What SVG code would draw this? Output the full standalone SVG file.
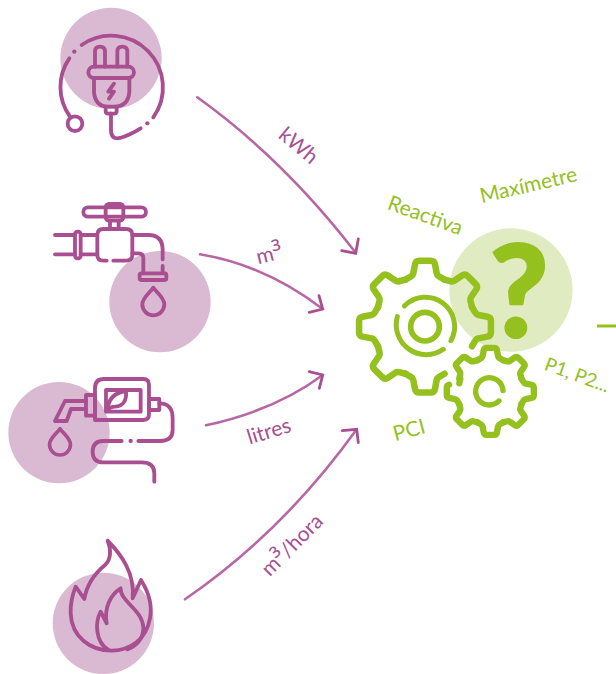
<svg xmlns="http://www.w3.org/2000/svg" width="616" height="674" viewBox="0 0 616 674">
<style>
.disc{fill:#d9bad2}
.ic{fill:none;stroke:#a94f91;stroke-width:11.5;stroke-linecap:round;stroke-linejoin:round}
.dot{fill:#a94f91}
.g{fill:none;stroke:#95c11f;stroke-linecap:round;stroke-linejoin:round}
.arrow{fill:none;stroke:#b767a4;stroke-width:2.6;stroke-linecap:round}
.head{fill:none;stroke:#a94f91;stroke-width:2.8;stroke-linecap:round;stroke-linejoin:miter}
.t{font-family:"Lato","Open Sans",sans-serif;font-size:21px;text-anchor:middle}
.tp{fill:#a94f91}
.tg{fill:#95c11f}
.sup{font-family:"Open Sans",sans-serif;font-size:26px}
</style>
<defs>
<path id="tooth" d="M-57,-137 L-40,-147 Q-35,-150 -34,-156 L-29,-182 Q-27,-192 -17,-192 H17 Q27,-192 29,-182 L34,-156 Q35,-150 40,-147 L57,-137"/>
<path id="drop" d="M0,-45 C-10,-30 -33,-15 -33,5 A33,33 0 0 0 33,5 C33,-15 10,-30 0,-45Z"/>
</defs>
<g id="node-electricity" transform="translate(40,0) scale(.3333)">
<circle class="disc" cx="213" cy="175" r="152"/>
<path class="ic" d="M125,135 A155,155 0 0 1 340,352"/>
<path class="ic" d="M88,175 A152,152 0 0 0 90,350"/>
<circle class="ic" cx="105" cy="371" r="22"/>
<circle class="dot" cx="103" cy="155" r="6.5"/>
<circle class="dot" cx="322" cy="370" r="6.5"/>
<path class="ic" d="M302,385 Q270,405 240,414 Q213,420 213,390 V340"/>
<path class="ic" d="M165,200 V155 Q165,140 180,140 Q195,140 195,155 V200 M232,200 V155 Q232,140 247,140 Q262,140 262,155 V200"/>
<rect class="ic" x="145" y="200" width="137" height="34" rx="17"/>
<path class="ic" d="M162,234 V275 Q165,320 205,320 H222 Q265,320 268,275 V234"/>
<path class="ic" d="M197,320 V333 Q197,341 205,341 H222 Q230,341 230,333 V320"/>
<path class="ic" d="M222,251 L205,275 H222 L207,296" stroke-width="8"/>
</g>
<g id="node-water" transform="translate(40,190) scale(.3333)">
<circle class="disc" cx="360" cy="335" r="152"/>
<rect class="ic" x="130" y="52" width="188" height="28" rx="14"/>
<rect class="ic" x="197" y="42" width="53" height="50" rx="10"/>
<path class="ic" d="M210,92 V117 M236,92 V117"/>
<path class="ic" d="M200,212 H190 Q172,212 172,195 V135 Q172,117 190,117 H258 Q277,117 277,135 V195 Q277,212 258,212 H220"/>
<path class="ic" d="M45,135 H105 M45,193 H105 M122,135 H172 M122,193 H172"/>
<rect class="ic" x="105" y="125" width="17" height="80" rx="8"/>
<path class="ic" d="M277,135 H325 Q368,135 368,180 V208 M368,228 V250 M277,190 H295 Q310,190 310,205 V250"/>
<rect class="ic" x="299" y="250" width="80" height="20" rx="5"/>
<use href="#drop" class="ic" transform="translate(340,338)"/>
</g>
<g id="node-fuel" transform="translate(0,365) scale(.3333)">
<circle class="disc" cx="177" cy="203" r="152"/>
<path class="ic" d="M285,165 V70 Q285,42 312,42 H430 Q447,42 447,60 V148 Q447,165 430,165 Z"/>
<rect class="ic" x="318" y="75" width="104" height="65"/>
<path class="ic" d="M322,138 Q325,85 378,78 Q382,122 345,125 Q330,125 322,138"/>
<rect class="ic" x="258" y="90" width="27" height="62"/>
<path class="ic" d="M258,108 H195 L165,168 H200 L213,132 H258"/>
<rect class="ic" x="447" y="102" width="31" height="33"/>
<path class="ic" d="M478,115 Q518,115 518,160 V195 Q518,228 480,228 H415"/>
<circle class="dot" cx="392" cy="228" r="6.5"/>
<path class="ic" d="M365,228 H310 Q278,228 278,260 Q278,292 310,292 H425 Q463,292 463,325 V350"/>
<use href="#drop" class="ic" transform="translate(180,234) scale(.95)"/>
</g>
<g id="node-gas" transform="translate(40,530) scale(.3333)">
<circle class="disc" cx="190" cy="280" r="152"/>
<path class="ic" d="M203,32 C245,75 285,130 278,205 L303,150 C325,185 338,225 330,265 C318,330 270,362 215,362 C150,362 95,320 92,250 C91,220 97,195 107,170 L133,207 C140,165 165,130 195,105 C212,90 215,60 203,32Z"/>
<path class="ic" d="M242,175 C240,215 310,240 310,295 C310,325 290,348 262,358 M242,175 C210,195 192,235 200,280 L182,245 C165,275 165,335 205,360"/>
</g>
<g id="node-process" transform="translate(345,220) scale(.3333)">
<circle cx="498" cy="210" r="185" fill="#e0ebc2"/>
<g class="g" stroke-width="19">
<g transform="translate(240,320) scale(1.03)">
<use href="#tooth"/>
<use href="#tooth" transform="rotate(45)"/>
<use href="#tooth" transform="rotate(90)"/>
<use href="#tooth" transform="rotate(180)"/>
<use href="#tooth" transform="rotate(225)"/>
<use href="#tooth" transform="rotate(270)"/>
<use href="#tooth" transform="rotate(315)"/>
</g>
<circle cx="240" cy="320" r="43" stroke-width="17"/>
<path stroke-width="15" d="M178,258 A88,88 0 0 1 318,362"/>
<path stroke-width="15" d="M157,290 A90,90 0 0 0 295,388"/>
<g transform="translate(436,514) scale(.68)" stroke-width="28">
<use href="#tooth"/>
<use href="#tooth" transform="rotate(45)"/>
<use href="#tooth" transform="rotate(90)"/>
<use href="#tooth" transform="rotate(135)"/>
<use href="#tooth" transform="rotate(180)"/>
<use href="#tooth" transform="rotate(225)"/>
<path d="M-57,-137 L-40,-147 Q-35,-150 -34,-156 L-29,-182 Q-27,-192 -17,-192 H17 Q27,-192 29,-182" transform="rotate(270)"/>
<use href="#tooth" transform="rotate(315)"/>
</g>
<path d="M346,477 L343,490"/>
<path stroke-width="16" d="M474,512 A41,41 0 1 0 462,543"/>
</g>
</g>
<text id="question" x="519" y="337" font-family="Lato,sans-serif" font-weight="900" font-size="128" text-anchor="middle" fill="#95c11f" stroke="#95c11f" stroke-width="2" stroke-linejoin="round">?</text>
<g id="connectors">
<path class="arrow" d="M197.3,97.3 Q283.5,159 355.7,252.7"/>
<path class="head" d="M341.7,250.7 L355.7,253.3 L358.3,239"/>
<path class="arrow" d="M200,254.3 Q265,265 322.7,309"/>
<path class="head" d="M309.3,312.3 L322.7,309 L319,295.7"/>
<path class="arrow" d="M206,425.3 Q276,410 322.7,375"/>
<path class="head" d="M309.3,371.7 L322.7,375 L319.3,388.3"/>
<path class="arrow" d="M185,599.3 Q283,532 356.7,429.3"/>
<path class="head" d="M342.3,430.7 L356.7,429.3 L358.3,442.7"/>
<path d="M597,326 H616" stroke="#95c11f" stroke-width="3" fill="none"/>
</g>
<g id="labels">
<text class="t tp" transform="translate(294,151) rotate(40)">kWh</text>
<text class="t tp" transform="translate(271,261) rotate(-14)">m<tspan class="sup" dy="2">³</tspan></text>
<text class="t tp" transform="translate(271,438) rotate(-17)">litres</text>
<text class="t tp" transform="translate(297,550) rotate(-45)">m<tspan class="sup" dy="2">³</tspan><tspan dy="-2">/hora</tspan></text>
<text class="t tg" transform="translate(411,437) rotate(-15)">PCI</text>
<text class="t tg" transform="translate(423,222) rotate(20)">Reactiva</text>
<text class="t tg" transform="translate(530,192) rotate(-13)">Maxímetre</text>
<text class="t tg" style="font-size:19px" transform="translate(575,381) rotate(20)">P1, P2...</text>
</g>
</svg>
